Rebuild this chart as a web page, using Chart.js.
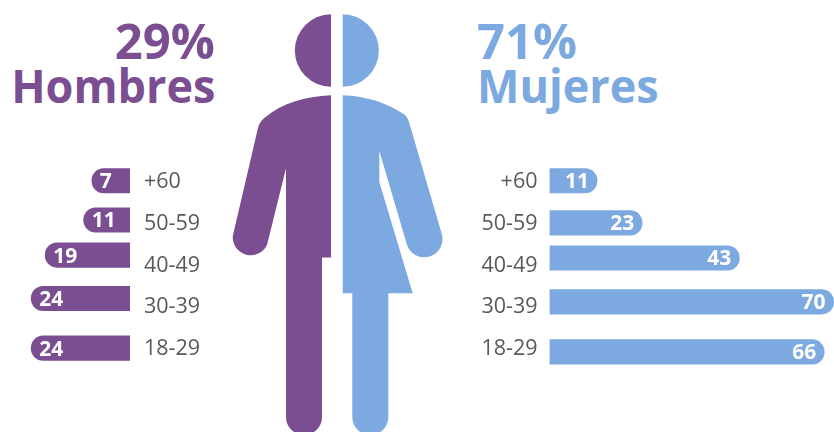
<!DOCTYPE html>
<html lang="es">
<head>
<meta charset="utf-8">
<script src="https://cdn.jsdelivr.net/npm/chart.js@4"></script>
<style>
html,body{margin:0;padding:0;background:#fff;width:834px;height:432px;overflow:hidden}
#wrap{position:relative;width:834px;height:432px;font-family:"Open Sans",sans-serif}
.box{position:absolute;top:0;height:432px}
.head{position:absolute;font-weight:700;white-space:nowrap}
.pct{font-size:49px;line-height:49px;top:16px}
.name{font-size:47px;line-height:47px;top:62px}
svg{position:absolute;left:0;top:0}
</style>
</head>
<body>
<div id="wrap">
  <div class="head pct" style="right:619px;color:#7a4e91">29%</div>
  <div class="head name" style="right:619px;color:#7a4e91;transform:scaleX(.957);transform-origin:right center">Hombres</div>
  <div class="head pct" style="left:477px;color:#7ca9e0">71%</div>
  <div class="head name" style="left:477px;color:#7ca9e0;transform:scaleX(.957);transform-origin:left center">Mujeres</div>
  <svg width="834" height="432" viewBox="0 0 834 432">
    <g fill="#7a4e91">
      <path d="M331 14.3A36.2 36.2 0 0 0 331 86.7Z"/>
      <path d="M331 95.3C305 96.5 282 103 264 118.3Q259 122 257.5 130L232.8 236A18 18 0 0 0 267 245L286 168.3V417A18 18 0 0 0 322 417V257.5H331Z"/>
    </g>
    <g fill="#7ca9e0">
      <path d="M342.7 14.3A36.2 36.2 0 0 1 342.7 86.7Z"/>
      <path d="M342.7 95.3C366 96 388 103 405 115Q408 118 409 122L441.5 233A18 18 0 0 1 407 245L379.3 150.7V181.7L412.7 293.3H388.3V417A18 18 0 0 1 352.3 417V293.3H342.7Z"/>
    </g>
  </svg>
  <div class="box" style="left:0;width:215px"><canvas id="men"></canvas></div>
  <div class="box" style="left:470px;width:364px"><canvas id="women"></canvas></div>
</div>
<script>
// Age groups, top to bottom
const ageGroups = ["+60", "50-59", "40-49", "30-39", "18-29"];
// Printed percentages
const menValues = [7, 11, 19, 24, 24];
const womenValues = [11, 23, 43, 70, 66];
// Bar lengths as drawn in the picture (the source artwork is not strictly proportional)
const menBarLengths = [9.3, 11.3, 20.7, 24.1, 24.1];
const womenBarLengths = [11.6, 22.6, 46.3, 69.3, 67];
// Vertical placement of each bar, in row units of the age-label axis
const menBarRows = [-0.03, 0.91, 1.75, 2.79, 3.98];
const womenBarRows = [-0.03, 0.98, 1.82, 2.87, 4.07];

const PX_PER_UNIT = 4.1, ROW_PX = 41.75, FIRST_ROW_PX = 182, H = 432;
const Y_MIN = -FIRST_ROW_PX / ROW_PX, Y_MAX = (H - FIRST_ROW_PX) / ROW_PX;

const valueLabels = {
  id: "valueLabels",
  afterDatasetsDraw(chart, args, opts) {
    const ctx = chart.ctx;
    const metas = chart.getDatasetMeta(0).data;
    ctx.save();
    ctx.fillStyle = "#ffffff";
    ctx.font = '700 21px "Open Sans", sans-serif';
    ctx.textBaseline = "middle";
    ctx.textAlign = opts.side === "left" ? "left" : "right";
    metas.forEach((bar, i) => {
      const x = opts.side === "left" ? bar.x + 8 : bar.x - 8;
      ctx.fillText(String(opts.values[i]), x, bar.y + 1.5);
    });
    ctx.restore();
  }
};

function makeChart(id, lengths, rows, values, color, side, axisWidth, tickPad, xMax) {
  return new Chart(document.getElementById(id), {
    type: "bar",
    data: {
      datasets: [{
        data: lengths.map((v, i) => ({ x: v, y: rows[i] })),
        backgroundColor: color,
        borderWidth: 0,
        borderRadius: 12.25,
        borderSkipped: "start",
        barThickness: 24.5
      }]
    },
    plugins: [valueLabels],
    options: {
      indexAxis: "y",
      responsive: true,
      maintainAspectRatio: false,
      animation: false,
      layout: { padding: 0 },
      plugins: {
        legend: { display: false },
        tooltip: { enabled: false },
        valueLabels: { values, side }
      },
      scales: {
        x: {
          type: "linear",
          display: false,
          min: 0,
          max: xMax,
          reverse: side === "left"
        },
        y: {
          type: "linear",
          offset: false,
          bounds: "data",
          position: side === "left" ? "right" : "left",
          reverse: true,
          min: Y_MIN,
          max: Y_MAX,
          grid: { display: false, drawTicks: false, offset: false },
          border: { display: false },
          afterBuildTicks(scale) {
            scale.ticks = ageGroups.map((_, i) => ({ value: i }));
            scale.min = Y_MIN;
            scale.max = Y_MAX;
          },
          afterFit(scale) {
            scale.width = axisWidth;
            scale.paddingTop = 0;
            scale.paddingBottom = 0;
          },
          ticks: {
            autoSkip: false,
            includeBounds: false,
            padding: tickPad,
            color: "#58595b",
            font: { family: '"Open Sans", sans-serif', size: 21.5 },
            callback: v => ageGroups[v]
          }
        }
      }
    }
  });
}

makeChart("men", menBarLengths, menBarRows, menValues, "#7a4e91", "left", 85, 14, 130 / PX_PER_UNIT);
makeChart("women", womenBarLengths, womenBarRows, womenValues, "#7ca9e0", "right", 79.5, 12, 284.5 / PX_PER_UNIT);
</script>
</body>
</html>
